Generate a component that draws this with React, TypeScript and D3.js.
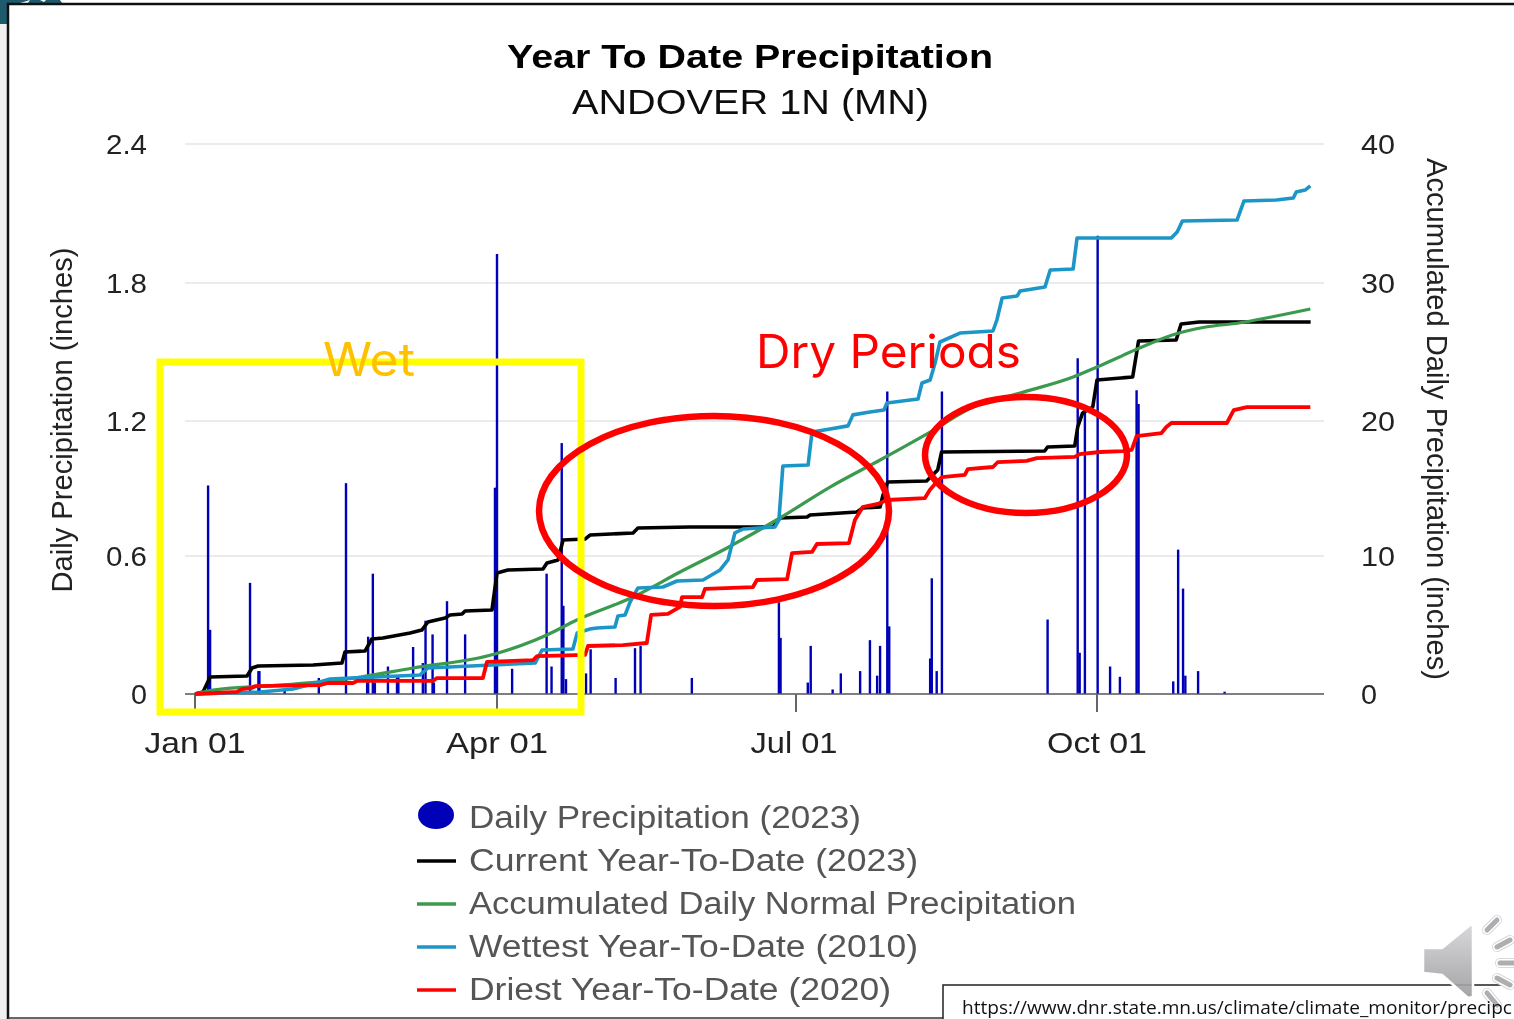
import React from "react";
import * as d3 from "d3";

// ---- data (day of year, value) ----
const monthTickDays = [0, 90, 181, 273];
const monthTickLabels = ["Jan 01", "Apr 01", "Jul 01", "Oct 01"];
const leftTicks = [0, 0.6, 1.2, 1.8, 2.4];
const leftTickLabels = ["0", "0.6", "1.2", "1.8", "2.4"];
const rightTicks = [0, 10, 20, 30, 40];

const dailyDays = [3.9,4.5,16.4,18.9,19.2,26.7,36.9,45,51.3,51.6,53,53.6,57.5,60.2,60.6,65,67.9,68.7,70.8,71.2,75.1,80.5,89.4,89.7,90,94.6,105.1,106.6,109.7,110.2,111,117.1,118.5,126.1,132,133.7,149.3,175.8,176.3,184.6,185.5,192.2,194.7,200.6,203.6,205.8,206.7,208.9,209.5,222,222.5,224,225.6,257.9,267.1,267.7,269.3,273.2,277,280,285.1,285.7,296.3,297.8,299.3,300,303.9,312];
const dailyPrecip = [0.91,0.28,0.485,0.1,0.1,0.02,0.07,0.92,0.05,0.25,0.525,0.05,0.12,0.08,0.08,0.205,0.135,0.32,0.26,0.05,0.405,0.26,0.9,0.9,1.92,0.11,0.525,0.12,1.095,0.385,0.065,0.09,0.195,0.07,0.2,0.21,0.07,0.4,0.245,0.05,0.21,0.02,0.09,0.1,0.235,0.08,0.21,1.32,0.295,0.155,0.505,0.1,1.32,0.325,1.465,0.18,1.24,2.0,0.12,0.075,1.325,1.265,0.055,0.63,0.46,0.08,0.1,0.01];

const currentDays = [0,2.4,4.5,15.5,17,18.8,35.2,43.8,44.7,50.7,52.7,56,64.1,67.6,69.4,74.5,76,79.6,80.5,88.5,90,93.3,104,105.2,108.6,110.1,116.8,118.3,131.4,132.9,148.7,174,176.1,184.4,185.3,199.6,201.4,206.7,207.6,209,220.9,224.3,225.5,257,257.9,266.2,267.1,268.6,271.7,273,283.9,285.7,297.2,298.7,304.2,338.3];
const currentYtd = [0,0.15,1.24,1.31,1.89,2.04,2.11,2.25,3.05,3.13,4,4.07,4.44,4.65,5.24,5.53,5.75,5.82,6.04,6.11,8.8,9.02,9.09,9.53,9.75,11.2,11.27,11.56,11.71,12.07,12.15,12.15,12.8,12.87,13.02,13.24,13.53,13.6,14.47,15.42,15.49,16.29,17.6,17.67,17.96,18.04,19.42,20.44,20.87,22.84,23.05,25.67,25.75,26.91,27.05,27.05];

const normalDays = [0,5.4,25.3,45.3,65,89.4,105.2,114.3,131.4,145.7,160,176.1,191.4,206.7,222,235.1,249.5,265.7,273,286,296,306.3,316.3,326.3,338.2];
const normalYtd = [0,0.29,0.65,1.09,1.89,2.91,4.29,5.38,7.05,8.87,10.62,12.8,15.05,17.02,19.05,20.87,21.89,23.05,23.78,25.16,26.11,26.69,26.98,27.42,28];

const wettestDays = [0,19.4,29.2,37.2,40.2,67,69.4,101.6,103.7,113.1,114.4,118.3,120.4,125.9,126.8,129,130.5,132.9,140.5,144.8,152.7,157.9,160.3,162.4,164.9,174.6,175.8,177,184.7,185.9,191.4,196.9,198.4,203.6,207.9,208.8,218.3,219.5,222,223.5,225,231.1,241.2,242.4,244,248.6,249.5,257.1,258.7,265.7,266.9,295.7,297.5,299.1,315.8,317.9,327.8,333,333.9,336.6,338.2];
const wettestYtd = [0,0.15,0.36,0.87,1.09,1.38,1.89,2.25,3.2,3.27,4.44,4.73,4.8,4.87,5.67,5.75,6.69,7.71,7.78,8.22,8.29,9.02,9.75,11.71,12,12.15,12.65,16.58,16.65,19.05,19.27,19.5,20.3,20.51,20.65,21.16,21.45,22.62,22.84,24.07,25.6,26.25,26.4,27.2,28.8,28.95,29.31,29.6,30.84,30.91,33.16,33.16,33.6,34.4,34.47,35.85,35.93,36.07,36.51,36.65,36.95];

const driestDays = [0,12.5,14,17,17.9,37.2,39.6,47.1,48.3,70.9,72.1,85.8,87,101,102.2,116.8,117.7,128.3,135.6,136.9,142,145.7,146.3,152.4,153.3,167.9,169.1,178.3,179.8,185.9,187.4,197.2,199,201.4,206,208.8,220.4,221.9,224,225.6,232.6,233.5,241.2,242.7,251.5,254.6,266.2,267.7,273.9,280.9,283.6,285.1,292.7,294.2,295.7,312.7,314.8,318.8,338.2];
const driestYtd = [0,0.15,0.36,0.44,0.58,0.65,0.8,0.8,0.95,0.95,1.16,1.16,2.33,2.47,2.76,2.84,3.49,3.56,3.71,5.75,5.82,6.33,7.05,7.05,7.64,7.78,8.29,8.36,10.25,10.33,10.91,10.98,12.65,13.6,13.82,14.11,14.25,14.84,15.42,15.78,15.93,16.36,16.51,16.87,16.95,17.16,17.24,17.45,17.6,17.67,17.75,18.76,18.98,19.42,19.71,19.71,20.65,20.87,20.87];

const legendLabels = [
  "Daily Precipitation (2023)",
  "Current Year-To-Date (2023)",
  "Accumulated Daily Normal Precipitation",
  "Wettest Year-To-Date (2010)",
  "Driest Year-To-Date (2020)",
];
const legendWidths = [392, 449, 607, 449, 422];
const legendColors = ["#0000b8", "#000000", "#3a9a4e", "#1f96c6", "#ff0000"];

// ---- scales ----
const x = d3.scaleLinear().domain(monthTickDays).range([195, 497, 796, 1097]);
const yDaily = d3.scaleLinear().domain([0, 2.4]).range([694, 144]);
const yAcc = d3.scaleLinear().domain([0, 40]).range([694, 144]);
const GL = 185, GR = 1324;
const FONT = "'Liberation Sans', Arial, sans-serif";
const ANNO = "Inter, 'Open Sans', sans-serif";

function acc(days: number[], vals: number[], curve: d3.CurveFactory) {
  const pts = days.map((d, i) => [d, vals[i]] as [number, number]);
  return d3.line<[number, number]>().x((p) => x(p[0])).y((p) => yAcc(p[1])).curve(curve)(pts) || "";
}

const tickGridY = [694, 556, 421, 283, 144];
const rays = [[1487, 930, 1497, 920], [1497, 947, 1510, 940], [1500, 963, 1516, 963], [1497, 978, 1510, 985], [1487, 993, 1497, 1005]];

export default function App() {
  return (
    <svg width={1514} height={1019} style={{ position: "fixed", left: 0, top: 0, background: "#fff" }} fontFamily={FONT}>
      <defs>
        <filter id="soft" x="0" y="0" width="100%" height="100%">
          <feGaussianBlur stdDeviation="0.55" />
        </filter>
        <linearGradient id="spk" x1="0" x2="0" y1="0" y2="1">
          <stop offset="0" stopColor="#d4d4d6" />
          <stop offset="1" stopColor="#9a9a9e" />
        </linearGradient>
      </defs>

      {/* slide frame */}
      <rect x={0} y={0} width={8} height={1019} fill="#f0f0f0" />
      <path d="M0,24 L7,24 L7,3 L20,3 L30,0 L0,0 Z" fill="#1d5a6c" />
      <path d="M28,3 L62,3 L60,0 L46,0 L44,2 L40,0 L30,0 Z" fill="#1d5a6c" />
      <path d="M8,1019 L8,4 L1514,4" fill="none" stroke="#111" strokeWidth={2.5} />
      <line x1={8} x2={943} y1={1018} y2={1018} stroke="#333" strokeWidth={1.5} />

      <g filter="url(#soft)">
        {/* title */}
        <text x={507} y={68} fontSize={34} fontWeight="bold" fill="#000" textLength={486} lengthAdjust="spacingAndGlyphs">Year To Date Precipitation</text>
        <text x={572} y={114} fontSize={35} fill="#111" textLength={357} lengthAdjust="spacingAndGlyphs">ANDOVER 1N (MN)</text>

        {/* grid */}
        {leftTicks.slice(1).map((t, i) => (
          <line key={t} x1={GL} x2={GR} y1={tickGridY[i + 1]} y2={tickGridY[i + 1]} stroke="#e4e4e4" strokeWidth={1.5} />
        ))}

        {/* bars */}
        {dailyDays.map((d, i) => (
          <line key={i} x1={x(d)} x2={x(d)} y1={yDaily(0)} y2={yDaily(dailyPrecip[i])} stroke="#0000b8" strokeWidth={2.4} />
        ))}

        {/* axis */}
        <line x1={GL} x2={GR} y1={694} y2={694} stroke="#555" strokeWidth={1.5} />
        {monthTickDays.map((d, i) => (
          <g key={d}>
            <line x1={x(d)} x2={x(d)} y1={694} y2={712} stroke="#666" strokeWidth={2} />
            <text x={x(d) - (i === 2 ? 2 : 0)} y={753} fontSize={30} fill="#222" textAnchor="middle" textLength={[101, 102, 87, 100][i]} lengthAdjust="spacingAndGlyphs">{monthTickLabels[i]}</text>
          </g>
        ))}
        {leftTicks.map((t, i) => (
          <text key={t} x={147} y={tickGridY[i] + 10} fontSize={27} fill="#222" textAnchor="end" textLength={i === 0 ? 16 : 41} lengthAdjust="spacingAndGlyphs">{leftTickLabels[i]}</text>
        ))}
        {rightTicks.map((t, i) => (
          <text key={t} x={1361} y={tickGridY[i] + 10} fontSize={27} fill="#222" textLength={i === 0 ? 16 : 34} lengthAdjust="spacingAndGlyphs">{t}</text>
        ))}
        <text transform="translate(72,420) rotate(-90)" fontSize={29} fill="#222" textAnchor="middle" textLength={345} lengthAdjust="spacingAndGlyphs">Daily Precipitation (inches)</text>
        <text transform="translate(1427,419) rotate(90)" fontSize={29} fill="#222" textAnchor="middle" textLength={522} lengthAdjust="spacingAndGlyphs">Accumulated Daily Precipitation (inches)</text>

        {/* lines */}
        <path d={acc(currentDays, currentYtd, d3.curveLinear)} fill="none" stroke="#000" strokeWidth={3.6} strokeLinejoin="round" />
        <path d={acc(normalDays, normalYtd, d3.curveMonotoneX)} fill="none" stroke={legendColors[2]} strokeWidth={3.2} />
        <path d={acc(wettestDays, wettestYtd, d3.curveLinear)} fill="none" stroke={legendColors[3]} strokeWidth={3.6} strokeLinejoin="round" />
        <path d={acc(driestDays, driestYtd, d3.curveLinear)} fill="none" stroke={legendColors[4]} strokeWidth={3.8} strokeLinejoin="round" />

        {/* legend */}
        <ellipse cx={436} cy={815} rx={18} ry={14} fill={legendColors[0]} />
        {legendLabels.map((l, i) => (
          <g key={l}>
            {i > 0 && <line x1={417} x2={456} y1={818 + i * 43} y2={818 + i * 43} stroke={legendColors[i]} strokeWidth={3.5} />}
            <text x={469} y={828 + i * 43} fontSize={31} fill="#555" textLength={legendWidths[i]} lengthAdjust="spacingAndGlyphs">{l}</text>
          </g>
        ))}
      </g>

      {/* annotations */}
      <rect x={160} y={362} width={421} height={350} fill="none" stroke="#ffff00" strokeWidth={7} />
      <text x={323} y={376} fontSize={46} fill="#ffc000" fontFamily={ANNO} textLength={92} lengthAdjust="spacingAndGlyphs">Wet</text>
      <text x={756} y={368} fontSize={46} fill="#ff0000" fontFamily={ANNO} textLength={265} lengthAdjust="spacingAndGlyphs">Dry Periods</text>
      <ellipse cx={714} cy={511} rx={175} ry={95} fill="none" stroke="#ff0000" strokeWidth={6.5} />
      <ellipse cx={1026} cy={455} rx={101} ry={58} fill="none" stroke="#ff0000" strokeWidth={6.5} />

      {/* source box */}
      <rect x={943} y={985} width={580} height={50} fill="#fff" stroke="#222" strokeWidth={1.5} />

      {/* speaker icon */}
      <path d="M1423,948 L1442,948 L1470,925 L1473,925 L1473,997 L1468,998 L1442,975 L1423,973 Z" fill="url(#spk)" fillOpacity={0.9} stroke="#fff" strokeWidth={2.5} strokeLinejoin="round" />
      {rays.map((c, i) => (
        <line key={"o" + i} x1={c[0]} y1={c[1]} x2={c[2]} y2={c[3]} stroke="#d8d8da" strokeWidth={10} strokeLinecap="round" />
      ))}
      {rays.map((c, i) => (
        <line key={"w" + i} x1={c[0]} y1={c[1]} x2={c[2]} y2={c[3]} stroke="#fff" strokeWidth={8} strokeLinecap="round" />
      ))}
      {rays.map((c, i) => (
        <line key={"i" + i} x1={c[0]} y1={c[1]} x2={c[2]} y2={c[3]} stroke="#aeaeb2" strokeWidth={5} strokeLinecap="round" />
      ))}
      <text x={962} y={1014} fontSize={18.5} fill="#111" fontFamily="'Open Sans', sans-serif" textLength={550} lengthAdjust="spacingAndGlyphs">https://www.dnr.state.mn.us/climate/climate_monitor/precipc</text>
    </svg>
  );
}
